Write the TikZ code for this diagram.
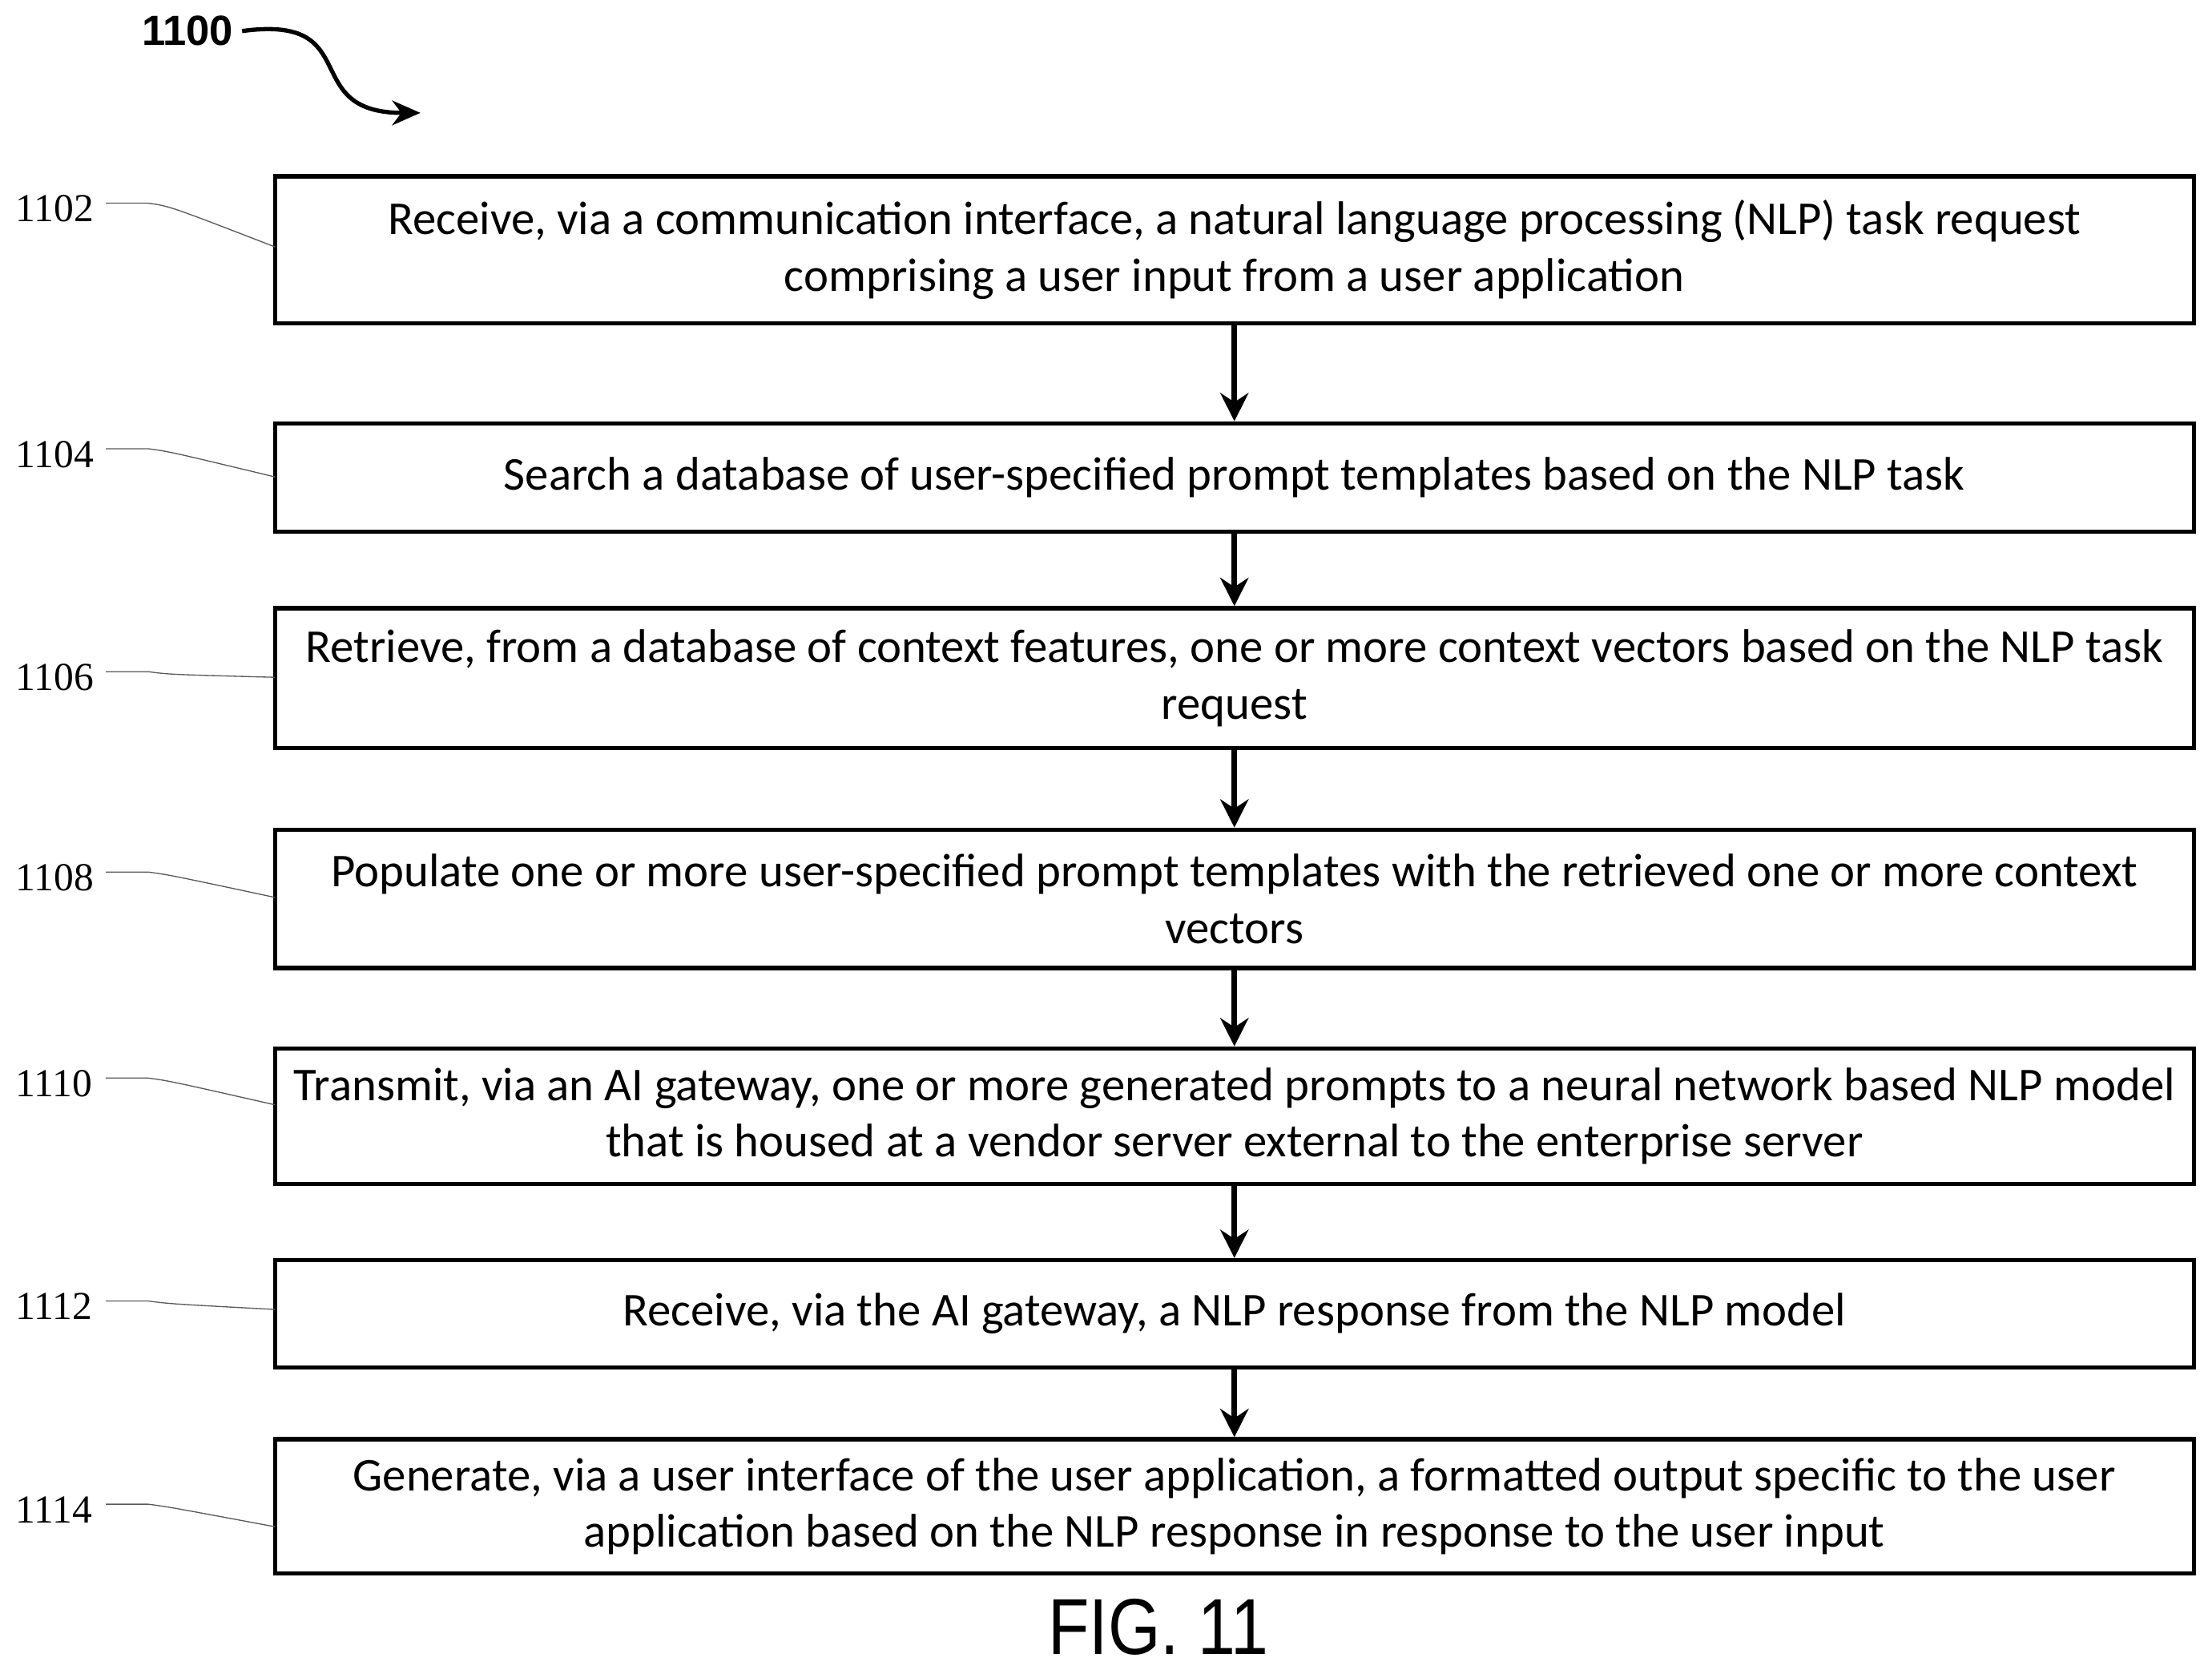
\documentclass[tikz,border=0pt]{standalone}
\usepackage{fontspec}
\setmainfont{Carlito}
\newfontfamily\tnr{Liberation Serif}
\newfontfamily\arl{Liberation Sans}
\usetikzlibrary{arrows.meta}
\begin{document}
\begin{tikzpicture}[x=0.2mm,y=-0.2mm,
 box/.style={draw,line width=0.6mm,minimum width=272mm,align=center,inner sep=0pt,font=\fontsize{19}{22.8}\selectfont},
 lab/.style={font=\tnr\fontsize{16}{18}\selectfont,anchor=west},
 lead/.style={draw=gray!70!black,line width=0.15mm},
 arr/.style={line width=0.8mm,-{Stealth[length=4mm,width=4mm]}}]
\useasboundingbox (0,0) rectangle (1568,1186);
\node[box,minimum height=20.8mm] (b1) at (875,177) {Receive, via a communication interface, a natural language processing (NLP) task request\\comprising a user input from a user application};
\node[box,minimum height=15.4mm] (b2) at (875,338.5) {Search a database of user-specified prompt templates based on the NLP task};
\node[box,minimum height=19.8mm] (b3) at (875,480.5) {Retrieve, from a database of context features, one or more context vectors based on the NLP task\\request};
\node[box,minimum height=19.6mm] (b4) at (875,637) {Populate one or more user-specified prompt templates with the retrieved one or more context\\vectors};
\node[box,minimum height=19.2mm] (b5) at (875,791) {Transmit, via an AI gateway, one or more generated prompts to a neural network based NLP model\\that is housed at a vendor server external to the enterprise server};
\node[box,minimum height=15.2mm] (b6) at (875,931) {Receive, via the AI gateway, a NLP response from the NLP model};
\node[box,minimum height=19mm] (b7) at (875,1067.5) {Generate, via a user interface of the user application, a formatted output specific to the user\\application based on the NLP response in response to the user input};
\foreach \a/\b in {b1/b2,b2/b3,b3/b4,b4/b5,b5/b6,b6/b7}\draw[arr] (\a.south) -- (\b.north);
\foreach \n/\ly/\ty/\t in {l1/148/175/1102,l2/322/338/1104,l3/480/480/1106,l4/622/636/1108,l5/768/783/1110,l6/926/928/1112,l7/1070/1082/1114}{
 \node[lab] (\n) at (5,\ly) {\t};
 \coordinate (\n a) at (75,\ly-4); \coordinate (\n b) at (105,\ly-4); \coordinate (\n c) at (195,\ty);
 \draw[lead] (\n a) -- (\n b) .. controls (120,\ly-2) .. (\n c);}
\node[font=\arl\bfseries\fontsize{17}{20}\selectfont] (t) at (133,22) {1100};
\coordinate (ae) at (298,80);
\draw[line width=0.6mm,-{Stealth[length=4mm,width=3.5mm]}] (t.east) .. controls (260,10) and (210,80) .. (ae);
\node[font=\arl\fontsize{32}{36}\selectfont,xscale=0.85] (fig) at (821,1153) {FIG. 11};
\end{tikzpicture}
\end{document}
